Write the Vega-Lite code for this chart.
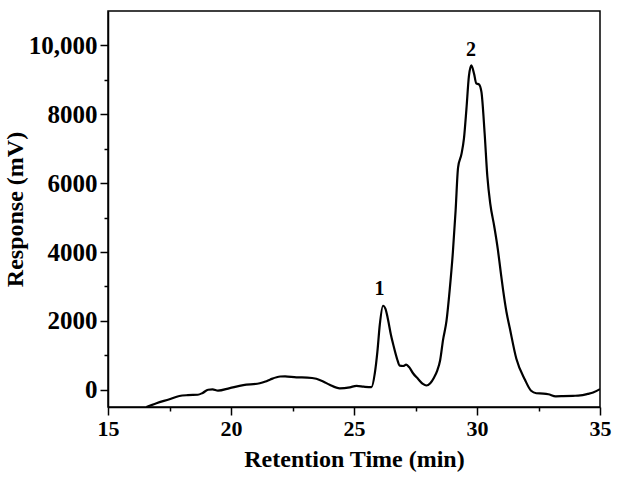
{
  "$schema": "https://vega.github.io/schema/vega-lite/v6.json",
  "width": 492,
  "height": 396,
  "autosize": {"type": "none"},
  "padding": {"left": 108, "top": 11, "right": 20, "bottom": 75},
  "background": "white",
  "config": {
    "view": {"stroke": "black", "strokeWidth": 1.5},
    "axis": {
      "domainColor": "black",
      "domainWidth": 1.5,
      "tickColor": "black",
      "tickWidth": 1.5,
      "labelFont": "Liberation Serif",
      "labelFontWeight": "bold",
      "labelColor": "black",
      "titleFont": "Liberation Serif",
      "titleFontWeight": "bold",
      "titleFontSize": 24,
      "titleColor": "black",
      "grid": false
    }
  },
  "datasets": {
    "curve": [
      {"t": 16.56, "r": -500},
      {"t": 16.97, "r": -390},
      {"t": 17.5, "r": -275},
      {"t": 17.9, "r": -180},
      {"t": 18.25, "r": -155},
      {"t": 18.65, "r": -145},
      {"t": 18.85, "r": -90},
      {"t": 19.07, "r": 0},
      {"t": 19.25, "r": 10},
      {"t": 19.47, "r": -25},
      {"t": 19.95, "r": 50},
      {"t": 20.5, "r": 135},
      {"t": 21.17, "r": 190},
      {"t": 21.4, "r": 240},
      {"t": 21.6, "r": 300},
      {"t": 22.0, "r": 385},
      {"t": 22.2, "r": 390},
      {"t": 22.66, "r": 360},
      {"t": 23.1, "r": 355},
      {"t": 23.47, "r": 320},
      {"t": 23.75, "r": 240},
      {"t": 24.01, "r": 145},
      {"t": 24.42, "r": 40},
      {"t": 24.83, "r": 70},
      {"t": 25.1, "r": 115},
      {"t": 25.4, "r": 90},
      {"t": 25.71, "r": 75},
      {"t": 25.85, "r": 500},
      {"t": 25.95, "r": 1100},
      {"t": 26.05, "r": 1900},
      {"t": 26.18, "r": 2440},
      {"t": 26.28, "r": 2350},
      {"t": 26.38, "r": 2050},
      {"t": 26.5, "r": 1600},
      {"t": 26.6, "r": 1300},
      {"t": 26.75, "r": 900},
      {"t": 26.86, "r": 700},
      {"t": 27.0, "r": 690},
      {"t": 27.12, "r": 730},
      {"t": 27.25, "r": 650},
      {"t": 27.4, "r": 480},
      {"t": 27.6, "r": 320},
      {"t": 27.8, "r": 170},
      {"t": 27.94, "r": 125},
      {"t": 28.1, "r": 190},
      {"t": 28.25, "r": 350},
      {"t": 28.38, "r": 550},
      {"t": 28.5, "r": 850},
      {"t": 28.62, "r": 1450},
      {"t": 28.76, "r": 2000},
      {"t": 28.89, "r": 2900},
      {"t": 29.02, "r": 4000},
      {"t": 29.13, "r": 5200},
      {"t": 29.23, "r": 6450},
      {"t": 29.37, "r": 6850},
      {"t": 29.47, "r": 7300},
      {"t": 29.57, "r": 8150},
      {"t": 29.67, "r": 9100},
      {"t": 29.77, "r": 9420},
      {"t": 29.88, "r": 9180},
      {"t": 29.97, "r": 8900},
      {"t": 30.08, "r": 8870},
      {"t": 30.18, "r": 8650},
      {"t": 30.31, "r": 7450},
      {"t": 30.42, "r": 6200},
      {"t": 30.54, "r": 5400},
      {"t": 30.7, "r": 4750},
      {"t": 30.85, "r": 4062},
      {"t": 30.95, "r": 3500},
      {"t": 31.06, "r": 2900},
      {"t": 31.2, "r": 2250},
      {"t": 31.33, "r": 1800},
      {"t": 31.6, "r": 900},
      {"t": 31.95, "r": 290},
      {"t": 32.2, "r": -30},
      {"t": 32.41, "r": -100},
      {"t": 32.7, "r": -110},
      {"t": 32.9, "r": -130},
      {"t": 33.2, "r": -190},
      {"t": 33.5, "r": -185},
      {"t": 33.9, "r": -175},
      {"t": 34.2, "r": -165},
      {"t": 34.5, "r": -120},
      {"t": 34.72, "r": -80},
      {"t": 35.0, "r": 20}
    ],
    "labels": [
      {"t": 26.04, "r": 2940, "label": "1"},
      {"t": 29.76, "r": 9880, "label": "2"}
    ]
  },
  "encoding": {
    "x": {
      "field": "t",
      "type": "quantitative",
      "scale": {"domain": [15, 35], "nice": false, "zero": false},
      "axis": {
        "title": "Retention Time (min)",
        "values": [15, 17.5, 20, 22.5, 25, 27.5, 30, 32.5, 35],
        "labelExpr": "datum.value % 5 == 0 ? format(datum.value, 'd') : ''",
        "tickSize": {"condition": {"test": "datum.value % 5 == 0", "value": 8}, "value": 4},
        "labelFontSize": 22,
        "labelPadding": 3,
        "titlePadding": 8,
        "labelFlush": false
      }
    },
    "y": {
      "field": "r",
      "type": "quantitative",
      "scale": {"domain": [-500, 11000], "nice": false, "zero": false},
      "axis": {
        "title": "Response (mV)",
        "values": [0, 1000, 2000, 3000, 4000, 5000, 6000, 7000, 8000, 9000, 10000],
        "labelExpr": "datum.value == 10000 ? '10,000' : (datum.value % 2000 == 0 ? format(datum.value, 'd') : '')",
        "tickSize": {"condition": {"test": "datum.value % 2000 == 0", "value": 8}, "value": 4},
        "labelFontSize": 25,
        "labelPadding": 3,
        "titlePadding": 1,
        "labelFlush": false
      }
    }
  },
  "layer": [
    {
      "data": {"name": "curve"},
      "mark": {"type": "line", "color": "black", "strokeWidth": 2.2, "clip": true, "interpolate": "monotone"}
    },
    {
      "data": {"name": "labels"},
      "mark": {"type": "text", "font": "Liberation Serif", "fontWeight": "bold", "fontSize": 20, "baseline": "middle", "align": "center", "color": "black"},
      "encoding": {
        "text": {"field": "label"}
      }
    }
  ]
}
